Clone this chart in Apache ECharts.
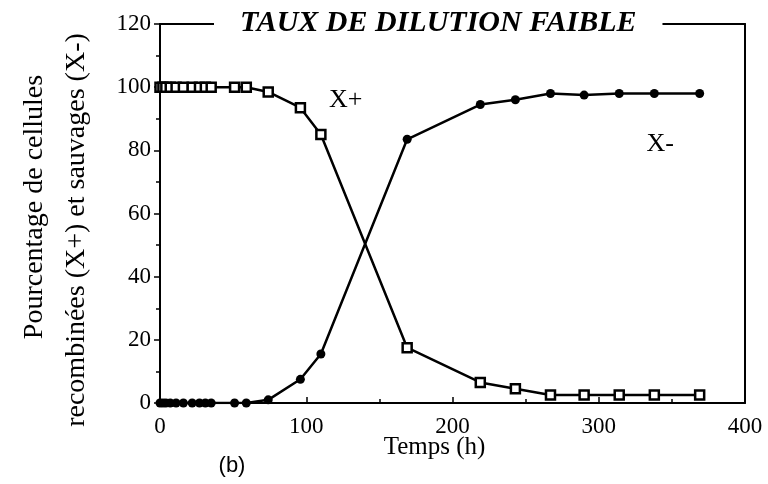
<!DOCTYPE html>
<html>
<head>
<meta charset="utf-8">
<script src="https://cdn.jsdelivr.net/npm/echarts@6/dist/echarts.min.js"></script>
<style>
  html, body { margin: 0; padding: 0; background: #fff; }
  #chart { width: 768px; height: 484px; }
</style>
</head>
<body>
<div id="chart"></div>
<script>
// Sampling times (h)
const temps = [0, 2, 4, 7, 11, 16, 22, 27, 31, 35, 51, 59, 74, 96, 110, 169, 219, 243, 267, 290, 314, 338, 369];
// Recombinant cells X+ (%)
const xPlus = [100, 100, 100, 100, 100, 100, 100, 100, 100, 100, 100, 100, 98.5, 93.5, 85, 17.5, 6.5, 4.5, 2.5, 2.5, 2.5, 2.5, 2.5];
// Wild-type cells X- (%)
const xMinus = [0, 0, 0, 0, 0, 0, 0, 0, 0, 0, 0, 0, 1, 7.5, 15.5, 83.5, 94.5, 96, 98, 97.5, 98, 98, 98];
// Curve captions, in data coordinates
const labelXPlus = [127, 96];
const labelXMinus = [342, 82];

const serif = '"Liberation Serif", "DejaVu Serif", serif';

const chart = echarts.init(document.getElementById('chart'), null, { renderer: 'canvas' });

const pairs = (xs, ys) => xs.map((t, i) => [t, ys[i]]);

const caption = (coord, text) => ({
  symbol: 'circle',
  symbolSize: 1,
  itemStyle: { color: 'rgba(0,0,0,0)' },
  data: [{
    coord: coord,
    label: { show: true, position: 'inside', formatter: text, fontFamily: serif, fontSize: 26, color: '#000' }
  }]
});

chart.setOption({
  animation: false,
  backgroundColor: '#fff',
  title: {
    text: 'TAUX DE DILUTION FAIBLE',
    left: 214,
    top: 7,
    padding: [1, 26],
    backgroundColor: '#fff',
    textStyle: {
      fontFamily: serif,
      fontWeight: 'bold',
      fontStyle: 'italic',
      fontSize: 30,
      color: '#000'
    }
  },
  grid: { left: 160, right: 23, top: 24, bottom: 81 },
  xAxis: [
    {
      type: 'value', min: 0, max: 400, interval: 100,
      name: 'Temps (h)', nameLocation: 'middle', nameGap: 32, nameMoveOverlap: false,
      nameTextStyle: { fontFamily: serif, fontSize: 25, color: '#000', padding: [0, 36, 0, 0] },
      axisLine: { show: true, lineStyle: { color: '#000', width: 2 } },
      axisTick: { show: true, inside: true, length: 6, lineStyle: { color: '#000', width: 1.5 } },
      minorTick: { show: true, splitNumber: 2, length: 4, lineStyle: { color: '#000', width: 1.5 } },
      splitLine: { show: false },
      axisLabel: { fontFamily: serif, fontSize: 23, color: '#000', margin: 12 }
    },
    {
      type: 'value', min: 0, max: 400, position: 'top',
      axisLine: { show: true, onZero: false, lineStyle: { color: '#000', width: 2 } },
      axisTick: { show: false }, axisLabel: { show: false }, splitLine: { show: false }
    }
  ],
  yAxis: [
    {
      type: 'value', min: 0, max: 120, interval: 20,
      axisLine: { show: true, lineStyle: { color: '#000', width: 2 } },
      axisTick: { show: true, inside: false, length: 6, lineStyle: { color: '#000', width: 1.5 } },
      minorTick: { show: true, splitNumber: 2, length: 4, lineStyle: { color: '#000', width: 1.5 } },
      splitLine: { show: false },
      axisLabel: { fontFamily: serif, fontSize: 23, color: '#000', margin: 9 }
    },
    {
      type: 'value', min: 0, max: 120, position: 'right',
      axisLine: { show: true, onZero: false, lineStyle: { color: '#000', width: 2 } },
      axisTick: { show: false }, axisLabel: { show: false }, splitLine: { show: false }
    }
  ],
  graphic: [
    {
      type: 'text', rotation: Math.PI / 2, x: 35, y: 207,
      style: { text: 'Pourcentage de cellules', font: '28px ' + serif, fill: '#000', align: 'center', verticalAlign: 'middle' }
    },
    {
      type: 'text', rotation: Math.PI / 2, x: 77, y: 230,
      style: { text: 'recombinées (X+) et sauvages (X-)', font: '28px ' + serif, fill: '#000', align: 'center', verticalAlign: 'middle' }
    },
    {
      type: 'text', x: 232, y: 466,
      style: { text: '(b)', font: '22px "Liberation Sans", Arial, sans-serif', fill: '#000', align: 'center', verticalAlign: 'middle' }
    }
  ],
  series: [
    {
      name: 'X+', type: 'line', data: pairs(temps, xPlus),
      symbol: 'rect', symbolSize: 9,
      lineStyle: { color: '#000', width: 2.5 },
      itemStyle: { color: '#fff', borderColor: '#000', borderWidth: 2.5 },
      z: 3,
      markPoint: caption(labelXPlus, 'X+')
    },
    {
      name: 'X-', type: 'line', data: pairs(temps, xMinus),
      symbol: 'circle', symbolSize: 9,
      lineStyle: { color: '#000', width: 2.5 },
      itemStyle: { color: '#000', borderColor: '#000', borderWidth: 0 },
      z: 4,
      markPoint: caption(labelXMinus, 'X-')
    }
  ]
});
</script>
</body>
</html>
